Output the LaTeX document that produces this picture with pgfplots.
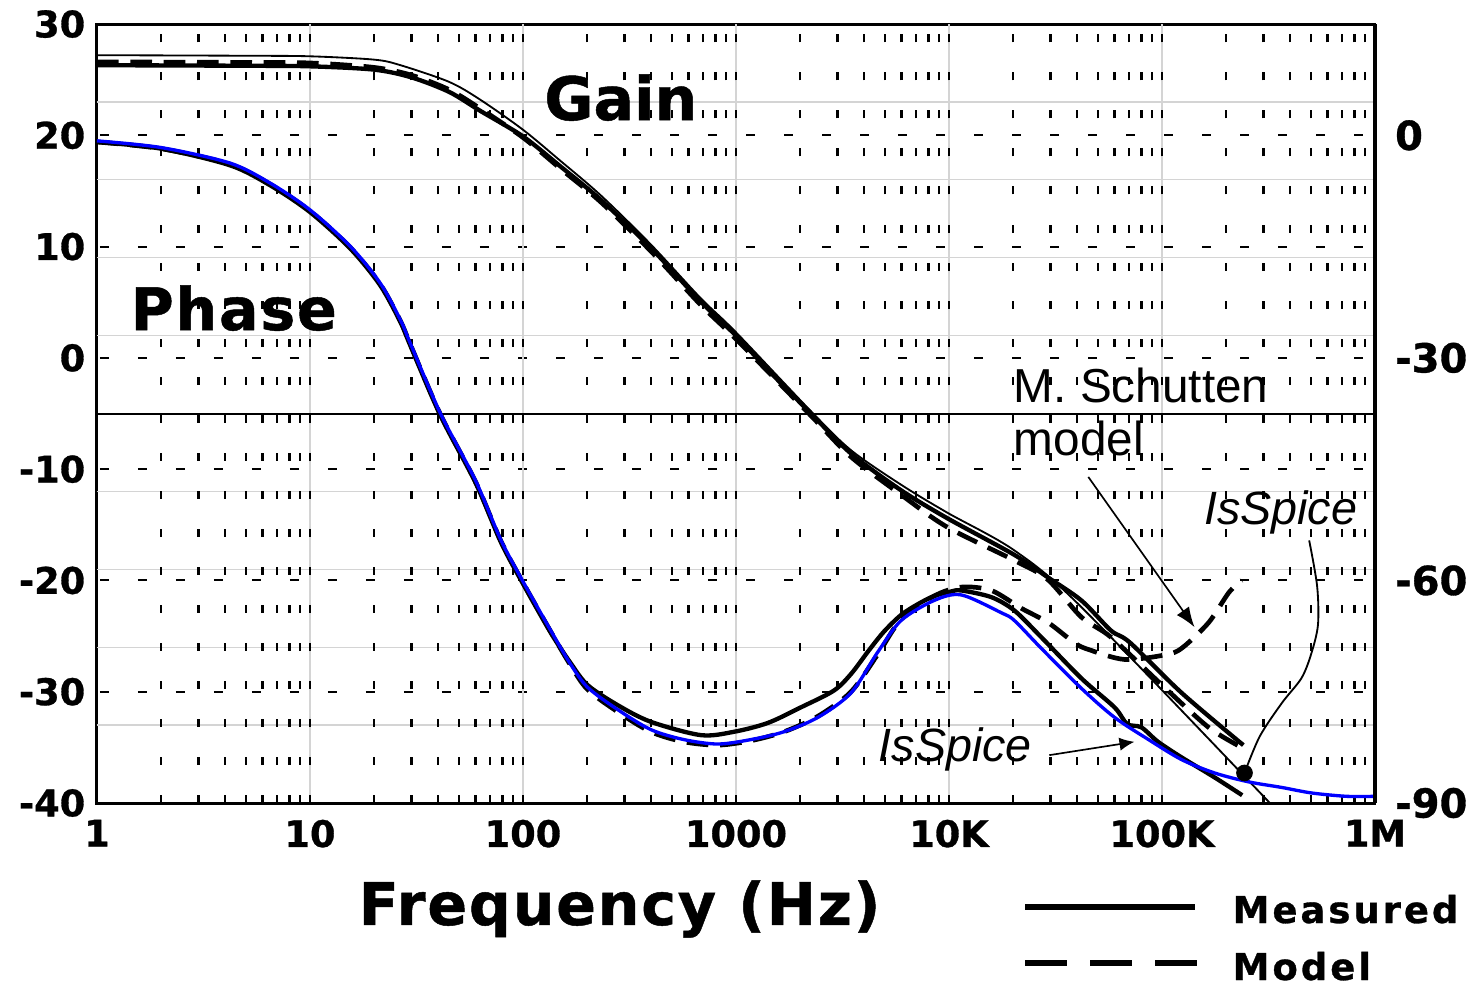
\documentclass[border=0pt]{standalone}
\usepackage{pgfplots}
\usepackage{pgfplotstable}
\pgfplotsset{compat=1.18}
\usepackage{fontspec}
\setmainfont{Liberation Sans}
\newfontfamily\heavy{DejaVu Sans}[BoldFeatures={FakeBold=0.8}]
\usetikzlibrary{arrows.meta}

% Gain, measured
\pgfplotstableread{
f y
1 26.3
5 26.25
10 26.2
20 25.9
30 25.2
45 23.9
63 22.2
100 19.9
150 17.2
232 14.2
398 9.9
680 5.1
1000 2.0
1450 -1.3
2250 -5.0
3470 -8.6
5960 -11.9
9800 -14.4
20270 -17.7
29000 -19.7
41860 -21.8
57600 -24.5
70900 -25.6
123600 -30.1
241000 -34.8
}\gainmeas

% Gain, model
\pgfplotstableread{
f y
1 26.6
5 26.55
10 26.5
20 26.1
30 25.4
45 24.1
63 22.4
100 19.8
150 17.0
232 14.0
398 9.6
680 4.8
1000 1.7
2250 -5.2
3470 -8.9
5960 -12.3
9800 -15.2
20270 -18.2
29000 -19.9
41860 -23.3
57600 -25.1
100000 -29.4
165400 -33.2
236500 -35.0
}\gainmodel

% Gain, IsSpice
\pgfplotstableread{
f y
1 27.2
5 27.15
10 27.1
20 26.8
26.6 26.3
45 24.8
63 23.2
100 20.5
150 17.7
232 14.6
398 10.2
680 5.4
1000 2.3
2250 -4.8
3470 -8.3
5960 -11.4
9800 -13.9
20270 -17.3
41860 -22.4
321000 -40.0
}\gainspice

% Phase, measured
\pgfplotstableread{
f y
1 19.4
2 18.8
4.22 17.3
6.51 15.5
10 13.1
15.5 9.8
21.4 6.5
26.6 3.2
29.6 1.1
41 -5.2
59.8 -11.2
78.5 -16.5
97.4 -19.9
135 -24.7
167 -27.4
201 -29.4
278 -31.2
398 -32.7
684 -33.9
978 -33.6
1413 -32.8
2019 -31.4
2880 -29.9
3470 -28.4
4200 -26.3
4950 -24.6
5960 -23.1
7190 -22.1
8515 -21.4
10190 -21.0
11410 -20.9
15800 -21.5
20270 -22.7
27120 -25.1
41860 -28.8
59840 -31.4
68600 -32.9
80000 -33.2
95800 -34.5
123600 -35.9
176600 -37.7
238000 -39.3
}\phasemeas

% Phase, model (M. Schutten)
\pgfplotstableread{
f y
1 19.4
2 18.8
4.22 17.4
6.51 15.6
10 13.2
15.5 9.9
21.4 6.6
26.6 3.3
29.6 1.2
41 -5.1
59.8 -11.1
78.5 -16.4
97.4 -19.8
135 -24.6
167 -27.6
201 -29.8
278 -31.8
398 -33.6
569 -34.5
822 -34.8
1175 -34.4
1679 -33.6
2427 -32.2
3470 -30.0
4645 -26.6
5960 -23.5
8515 -21.4
11410 -20.6
15800 -20.9
21850 -22.5
29270 -23.8
38800 -25.6
45100 -26.2
66600 -27.1
102700 -26.7
123600 -26.1
165400 -23.8
205800 -21.1
236500 -20.0
}\phasemodel

% Phase, IsSpice
\pgfplotstableread{
f y
1 19.5
2 18.9
4.22 17.5
6.51 15.7
10 13.3
15.5 10.0
21.4 6.7
26.6 3.4
29.6 1.3
41 -5.0
59.8 -11.0
78.5 -16.3
97.4 -19.7
135 -24.5
167 -27.5
201 -29.6
278 -31.6
398 -33.4
569 -34.3
822 -34.7
1175 -34.3
1679 -33.6
2427 -32.3
3470 -30.1
4645 -26.4
5960 -23.6
8515 -21.8
11410 -21.3
17590 -22.9
20270 -23.6
27120 -26.1
41860 -29.7
59840 -32.3
86450 -34.3
123600 -36.1
176600 -37.3
255100 -38.1
364600 -38.6
504700 -39.1
737000 -39.4
1000000 -39.4
}\phasespice

\tikzset{
  meas/.style={black, line width=1.3pt, line join=round, smooth},
  model/.style={black, line width=1.4pt, dash pattern=on 6.5pt off 3.5pt, smooth},
  thinline/.style={black, line width=0.55pt, smooth},
}
\pgfplotsset{
  fine grid/.style={black!17, line width=0.4pt, forget plot},
  dot grid/.style={black, line width=0.75pt, dash pattern=on 2.4pt off 9.01pt, forget plot},
}

\begin{document}
\begin{tikzpicture}
\begin{axis}[
  scale only axis,
  width=383.4pt, height=233.7pt,
  xmode=log, log basis x=10,
  xmin=1, xmax=1e6, ymin=-40, ymax=30,
  xtick={1,10,100,1000,10000,100000,1000000},
  xticklabels={1,10,100,1000,10K,100K,1M},
  ytick={-40,-30,-20,-10,0,10,20,30},
  yticklabels={-40,-30,-20,-10,0,10,20,30},
  major tick length=0pt, minor tick length=0pt,
  ymajorgrids=true,
  major y grid style={black, line width=0.6pt, dash pattern=on 2.7pt off 8.7pt, dash phase=10.5pt},
  axis line style={line width=0.9pt},
  ticklabel style={font=\heavy\bfseries\fontsize{11}{13}\selectfont},
  xticklabel style={yshift=-1.5pt},
  xlabel={Frequency (Hz)},
  xlabel style={at={(rel axis cs:0.2042,-0.1566)}, anchor=base west, inner sep=0pt,
    font=\heavy\bfseries\fontsize{17.6}{20}\selectfont\addfontfeatures{LetterSpace=3}},
]
% light decade and division lines
\addplot[fine grid] coordinates {(10,-40) (10,30)};
\addplot[fine grid] coordinates {(100,-40) (100,30)};
\addplot[fine grid] coordinates {(1000,-40) (1000,30)};
\addplot[fine grid] coordinates {(10000,-40) (10000,30)};
\addplot[fine grid] coordinates {(100000,-40) (100000,30)};
\addplot[fine grid] coordinates {(1,-33) (1e6,-33)};
\addplot[fine grid] coordinates {(1,-26) (1e6,-26)};
\addplot[fine grid] coordinates {(1,-19) (1e6,-19)};
\addplot[fine grid] coordinates {(1,-12) (1e6,-12)};
\addplot[fine grid] coordinates {(1,2) (1e6,2)};
\addplot[fine grid] coordinates {(1,9) (1e6,9)};
\addplot[fine grid] coordinates {(1,16) (1e6,16)};
\addplot[fine grid] coordinates {(1,23) (1e6,23)};

% dotted log grid at every 1..9 of each decade
\pgfplotsinvokeforeach{2,3,4,5,6,7,8,9,
  10,20,30,40,50,60,70,80,90,
  100,200,300,400,500,600,700,800,900,
  1000,2000,3000,4000,5000,6000,7000,8000,9000,
  10000,20000,30000,40000,50000,60000,70000,80000,90000,
  100000,200000,300000,400000,500000,600000,700000,800000,900000}{
  \addplot[dot grid] coordinates {(#1,-40) (#1,30)};
}

% reference line
\addplot[black, line width=0.6pt, forget plot] coordinates {(1,-5) (1e6,-5)};

% gain
\addplot[model] table {\gainmodel};
\addplot[meas] table {\gainmeas};
\addplot[thinline] table {\gainspice};

% phase
\addplot[meas] table {\phasemeas};
\addplot[model] table {\phasemodel};
\addplot[blue, line width=1pt, smooth] table {\phasespice};

% marker where the IsSpice note points
\addplot[only marks, mark=*, mark size=2.3pt, black] coordinates {(244000,-37.3)};

% labels and notes
\node[anchor=base west, inner sep=0pt, font=\heavy\bfseries\fontsize{18}{20}\selectfont] at (axis cs:125,21.37) {Gain};
\node[anchor=base west, inner sep=0pt, font=\heavy\bfseries\fontsize{17.6}{20}\selectfont\addfontfeatures{LetterSpace=3}] at (axis cs:1.43,2.5) {Phase};
\node[anchor=base west, inner sep=0pt, font=\fontsize{14.3}{16}\selectfont] at (axis cs:20040,-3.97) {M. Schutten};
\node[anchor=base west, inner sep=0pt, font=\fontsize{14.3}{16}\selectfont] at (axis cs:20040,-8.73) {model};
\node[anchor=base west, inner sep=0pt, font=\fontsize{14}{16}\selectfont\itshape] at (axis cs:156700,-15.0) {IsSpice};
\node[anchor=base west, inner sep=0pt, font=\fontsize{14}{16}\selectfont\itshape] at (axis cs:4645,-36.3) {IsSpice};

\draw[line width=0.5pt, -{Latex[length=6pt,width=4.5pt]}] (axis cs:45100,-10.7) -- (axis cs:142200,-24.2);
\draw[line width=0.5pt, -{Latex[length=4.5pt,width=4pt]}] (axis cs:29580,-35.7) -- (axis cs:74270,-34.5);
\draw[line width=0.55pt] plot[smooth] coordinates {(491000,-16.4) (535000,-20.5) (540000,-24.0) (500000,-26.7) (451000,-28.8) (366000,-31.0) (288000,-34.0) (244000,-37.3)};
\end{axis}

% right-hand scale
\begin{axis}[
  scale only axis,
  width=383.4pt, height=233.7pt,
  xmode=log, xmin=1, xmax=1e6,
  ymin=-90, ymax=15,
  hide x axis,
  axis y line*=right,
  y axis line style={line width=1.3pt, -},
  ytick={-90,-60,-30,0},
  yticklabels={-90,-60,-30,0},
  major tick length=0pt,
  yticklabel style={font=\heavy\bfseries\fontsize{12}{14}\selectfont, xshift=2.5pt},
]
\end{axis}

% key
\draw[line width=2pt] (278.4pt,-31.2pt) -- (329.4pt,-31.2pt);
\draw[line width=2pt, dash pattern=on 12.6pt off 6.9pt] (278.4pt,-48pt) -- (330pt,-48pt);
\node[anchor=base west, inner sep=0pt, font=\heavy\bfseries\fontsize{11.1}{13}\selectfont\addfontfeatures{LetterSpace=8}] at (340.5pt,-36pt) {Measured};
\node[anchor=base west, inner sep=0pt, font=\heavy\bfseries\fontsize{11.1}{13}\selectfont\addfontfeatures{LetterSpace=8}] at (340.5pt,-53.1pt) {Model};

\pgfresetboundingbox
\path[use as bounding box] (-29.1pt,-54.3pt) rectangle (413.4pt,240.9pt);
\end{tikzpicture}
\end{document}
